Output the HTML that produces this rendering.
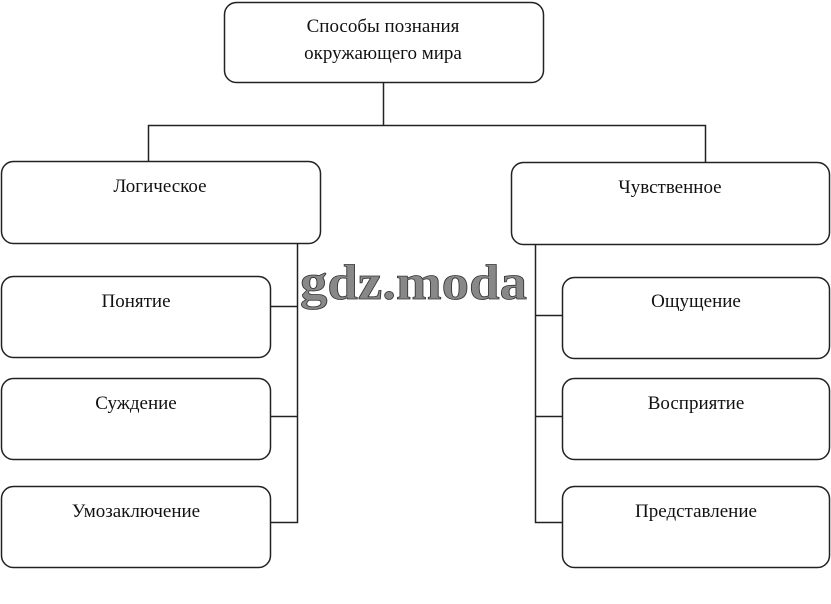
<!DOCTYPE html>
<html><head><meta charset="utf-8"><style>
body{margin:0;background:#fff;}
svg{display:block}
text{font-family:"Liberation Serif","DejaVu Serif",serif;font-size:19px;fill:#111;text-anchor:middle}
</style></head><body>
<svg width="831" height="604" viewBox="0 0 831 604" xmlns="http://www.w3.org/2000/svg">
<g fill="none" stroke="#222" stroke-width="1.5">
<rect x="224.5" y="2.5" width="319" height="80" rx="12"/>
<rect x="1.5" y="161.5" width="319" height="82" rx="12"/>
<rect x="511.5" y="162.5" width="318" height="82" rx="12"/>
<rect x="1.5" y="276.5" width="269" height="81" rx="12"/>
<rect x="1.5" y="378.5" width="269" height="81" rx="12"/>
<rect x="1.5" y="486.5" width="269" height="81" rx="12"/>
<rect x="562.5" y="277.5" width="267" height="81" rx="12"/>
<rect x="562.5" y="378.5" width="267" height="81" rx="12"/>
<rect x="562.5" y="486.5" width="267" height="81" rx="12"/>
<path d="M383.5 82V125.5M148.5 162V125.5H705.5V163"/>
<path d="M297.5 243V522.5H271M271 306.5H297.5M271 416.5H297.5"/>
<path d="M535.5 245V522.5H562M535.5 315.5H562M535.5 416.5H562"/>
</g>
<text x="383" y="32">Способы познания</text>
<text x="383" y="59">окружающего мира</text>
<text x="160" y="192">Логическое</text>
<text x="670" y="193">Чувственное</text>
<text x="136" y="307">Понятие</text>
<text x="136" y="409">Суждение</text>
<text x="136" y="517">Умозаключение</text>
<text x="696" y="307">Ощущение</text>
<text x="696" y="409">Восприятие</text>
<text x="696" y="517">Представление</text>
<text x="300" y="299" textLength="227" lengthAdjust="spacingAndGlyphs" style="text-anchor:start;font-size:50px;font-weight:bold;fill:#888;stroke:#333;stroke-width:0.8">gdz.moda</text>
</svg>
</body></html>
